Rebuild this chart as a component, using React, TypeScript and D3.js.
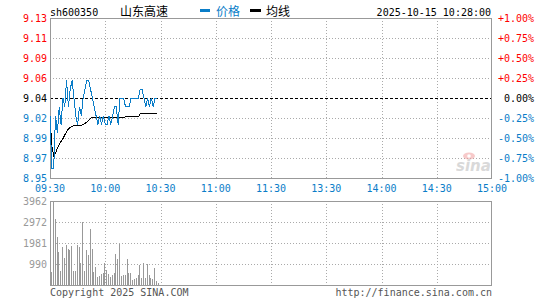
import React from 'react';
import { scaleLinear, line } from 'd3';

// header / legend
const symbol = 'sh600350';
const stockName = '山东高速';
const legendNames = ['价格', '均线'];
const stamp = '2025-10-15 10:28:00';

// axis labels
const priceLabels = ['9.13', '9.11', '9.09', '9.06', '9.04', '9.02', '8.99', '8.97', '8.95'];
const pctLabels = ['+1.00%', '+0.75%', '+0.50%', '+0.25%', '0.00%', '-0.25%', '-0.50%', '-0.75%', '-1.00%'];
const timeLabels = ['09:30', '10:00', '10:30', '11:00', '11:30', '13:30', '14:00', '14:30', '15:00'];
const volLabels = ['3962', '2972', '1981', '990'];

const prevClose = 9.04;
const volMax = 3962;

// one value per minute from 09:30 to 10:28
const price = [
  9.02, 8.96, 8.96, 9.02, 9.00, 9.03, 9.01, 9.04, 9.03, 9.06,
  9.03, 9.05, 9.06, 9.04, 9.02, 9.01, 9.03, 9.02, 9.04, 9.05,
  9.06, 9.06, 9.05, 9.04, 9.03, 9.02, 9.01, 9.02, 9.01, 9.02,
  9.01, 9.01, 9.02, 9.01, 9.02, 9.03, 9.03, 9.01, 9.04, 9.04,
  9.04, 9.03, 9.03, 9.03, 9.04, 9.04, 9.04, 9.04, 9.04, 9.05,
  9.05, 9.04, 9.03, 9.04, 9.03, 9.04, 9.03, 9.04, 9.04,
];

const avgPrice = [
  9.02, 8.985, 8.975, 8.978, 8.983, 8.987, 8.991, 8.994, 8.998, 9.002,
  9.005, 9.007, 9.008, 9.009, 9.009, 9.009, 9.009, 9.009, 9.01, 9.011,
  9.013, 9.015, 9.017, 9.018, 9.018, 9.018, 9.018, 9.018, 9.018, 9.018,
  9.018, 9.018, 9.018, 9.018, 9.018, 9.018, 9.018, 9.018, 9.018, 9.018,
  9.018, 9.019, 9.019, 9.019, 9.019, 9.019, 9.019, 9.019, 9.019, 9.022,
  9.022, 9.022, 9.022, 9.022, 9.022, 9.022, 9.022, 9.022, 9.022,
];

const volume = [
  610, 3962, 3100, 2260, 1560, 650, 1810, 1290, 1870, 1700,
  1640, 1820, 650, 650, 1870, 1810, 1020, 2990, 650, 1640,
  1400, 2620, 1680, 630, 870, 390, 410, 500, 580, 1020,
  720, 500, 390, 460, 580, 1450, 1240, 1920, 420, 460,
  470, 1240, 550, 550, 250, 300, 350, 460, 930, 350,
  1020, 350, 980, 460, 330, 270, 800, 190, 100,
];

const W = 545, H = 300;
const mono = '"DejaVu Sans Mono", monospace';
const RED = '#ff0000', BLUE = '#0a7dc8', GREY = '#999999';

const App = () => {
  const xScale = scaleLinear().domain([0, 240]).range([50, 492]);
  const yScale = scaleLinear().domain([prevClose * 0.99, prevClose * 1.01]).range([178, 18]);
  const vScale = scaleLinear().domain([0, volMax]).range([285, 201]);

  const px = (v) => Math.round(v) + 0.5;
  const tickY = (i) => 18 + i * 20;
  const volY = (i) => vScale(volMax - i * (volMax / 4));

  const priceLine = line().x((d, i) => xScale(i)).y(d => yScale(d));

  const labelColor = (i) => (i < 4 ? RED : i === 4 ? '#000' : BLUE);

  return (
    <svg width={W} height={H} style={{ position: 'absolute', left: 0, top: 0, background: '#fff' }}
      fontFamily={mono} fontSize={10}>
      {/* header */}
      <text x={50} y={15.5} fill="#000">{symbol}</text>
      <text x={120} y={16} fill="#000" fontFamily='"Noto Sans CJK SC", sans-serif' fontSize={12}>{stockName}</text>
      <rect x={200} y={9} width={10} height={3} fill={BLUE} />
      <text x={216} y={16} fill={BLUE} fontFamily='"Noto Sans CJK SC", sans-serif' fontSize={12}>{legendNames[0]}</text>
      <rect x={250} y={9} width={11} height={3} fill="#000" />
      <text x={266} y={16} fill="#000" fontFamily='"Noto Sans CJK SC", sans-serif' fontSize={12}>{legendNames[1]}</text>
      <text x={491} y={15.5} textAnchor="end" fill="#000">{stamp}</text>

      {/* price panel grid */}
      {priceLabels.map((l, i) => (i > 0 && i < 8 ? (
        <line key={'h' + i} x1={50} x2={492} y1={px(tickY(i))} y2={px(tickY(i))}
          stroke={i === 4 ? '#000' : '#aaa'} strokeDasharray={i === 4 ? '3,2' : '1,2'} shapeRendering="crispEdges" />
      ) : null))}
      {timeLabels.map((t, i) => (i > 0 && i < 8 ? (
        <line key={'v' + i} x1={px(xScale(i * 30))} x2={px(xScale(i * 30))} y1={18} y2={178}
          stroke="#aaa" strokeDasharray="1,2" shapeRendering="crispEdges" />
      ) : null))}

      {/* sina watermark */}
      <g opacity={0.55}>
        <ellipse cx={469} cy={156} rx={6} ry={3.5} fill="#f2a0a0" />
        <circle cx={469} cy={156} r={1.8} fill="#fff" />
        <text x={456} y={171} fill="#bbb" fontFamily='"DejaVu Sans", sans-serif' fontSize={15}
          fontStyle="italic" fontWeight="bold">sina</text>
      </g>

      <rect x={50.5} y={18.5} width={441} height={160} fill="none" stroke={GREY} shapeRendering="crispEdges" />

      {/* lines */}
      <path d={priceLine(avgPrice)} fill="none" stroke="#000" strokeWidth={1} shapeRendering="crispEdges" />
      <path d={priceLine(price)} fill="none" stroke={BLUE} strokeWidth={1} shapeRendering="crispEdges" />

      {/* y labels */}
      {priceLabels.map((l, i) => (
        <text key={'pl' + i} x={47} y={tickY(i) + 3.5} textAnchor="end" fill={labelColor(i)}>{l}</text>
      ))}
      {pctLabels.map((l, i) => (
        <text key={'pr' + i} x={534} y={tickY(i) + 3.5} textAnchor="end" fill={labelColor(i)}>{l}</text>
      ))}
      {timeLabels.map((t, i) => (
        <text key={'t' + i} x={xScale(i * 30)} y={191.5} textAnchor="middle" fill={BLUE}>{t}</text>
      ))}

      {/* volume panel */}
      {volLabels.map((l, i) => (i > 0 ? (
        <line key={'vh' + i} x1={50} x2={492} y1={px(volY(i))} y2={px(volY(i))}
          stroke="#aaa" strokeDasharray="1,2" shapeRendering="crispEdges" />
      ) : null))}
      {timeLabels.map((t, i) => (i > 0 && i < 8 ? (
        <line key={'vv' + i} x1={px(xScale(i * 30))} x2={px(xScale(i * 30))} y1={201} y2={285}
          stroke="#aaa" strokeDasharray="1,2" shapeRendering="crispEdges" />
      ) : null))}
      {volume.map((v, i) => (
        <rect key={'b' + i} x={Math.round(xScale(i)) + 1} y={vScale(v)} width={1} height={285 - vScale(v)}
          fill={GREY} shapeRendering="crispEdges" />
      ))}
      <rect x={50.5} y={201.5} width={441} height={84} fill="none" stroke={GREY} shapeRendering="crispEdges" />
      {volLabels.map((l, i) => (
        <text key={'vl' + i} x={47} y={volY(i) + 3.5} textAnchor="end" fill={GREY}>{l}</text>
      ))}

      {/* footer */}
      <text x={50} y={296} fill="#555">Copyright 2025 SINA.COM</text>
      <text x={492} y={296} textAnchor="end" fill="#555">http://finance.sina.com.cn</text>
    </svg>
  );
};

export default App;
